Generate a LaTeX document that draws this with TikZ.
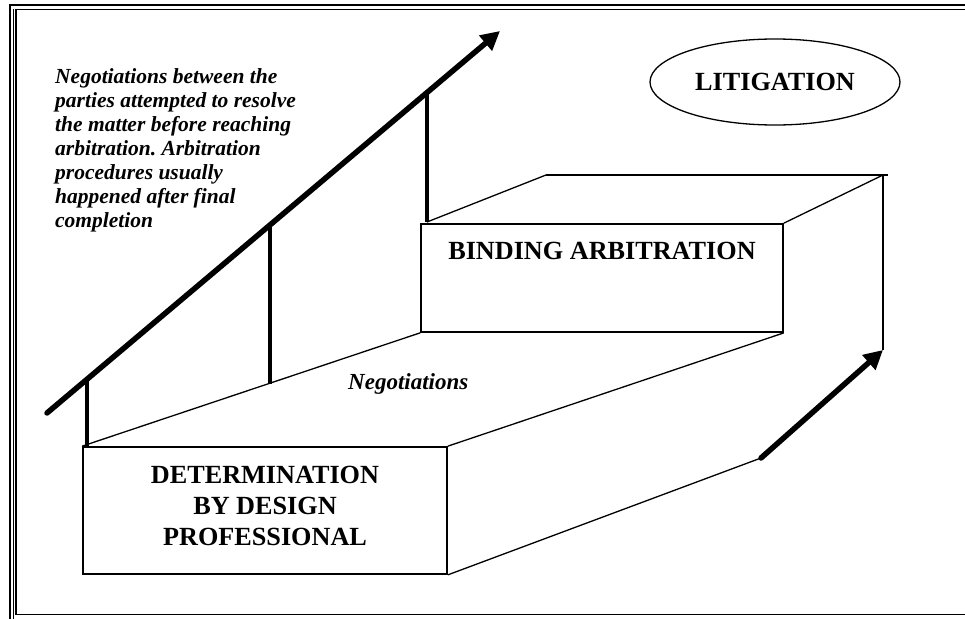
\documentclass[tikz,border=0pt]{standalone}
\usepackage{fontspec}
\setmainfont{Liberation Serif}
\usetikzlibrary{arrows.meta,shapes.geometric,calc}
\frenchspacing
\begin{document}
\begin{tikzpicture}[x=1pt,y=-1pt,
  frame/.style={line width=#1},
  stepbox/.style={draw,line width=1.7pt,inner sep=0pt,rectangle},
  edge/.style={line width=1.3pt},
  post/.style={line width=4pt},
  thickarrow/.style={line width=5.5pt,line cap=round,-{Triangle[length=19pt,width=19pt]}},
  boldlabel/.style={font=\fontsize{26.2}{31.4}\selectfont\bfseries,inner sep=0pt},
  note/.style={font=\fontsize{21.5}{24}\selectfont\bfseries\itshape,inner sep=0pt}]
\useasboundingbox (0,0) rectangle (965,618);

% page border (runs off the right and bottom edges)
\draw[frame=2pt] (10,630) -- (10,5) -- (980,5);
\draw[frame=0.8pt] (13,630) -- (13,9);
\draw[frame=1.6pt] (980,614.5) -- (16,614.5) -- (16,9.5) -- (980,9.5);

% front faces of the two steps
\node[stepbox,minimum width=364pt,minimum height=127pt] (dbox) at (265,510.5) {};
\node[stepbox,minimum width=362pt,minimum height=108pt] (abox) at (602,278) {};

% key points of the top faces and the side
\coordinate (ubl) at (546,175);
\coordinate (ubr) at (883,175);
\coordinate (rb)  at (883,350);
\coordinate (tail) at (761,458);
\coordinate (p3b) at (427,222);

% lower step: top face and side
\draw[edge] (dbox.north west) -- (abox.south west);
\draw[edge] (dbox.north east) -- (abox.south east);
\draw[edge] (dbox.south east) -- (tail);

% upper step: top face and back edge
\draw[edge] (p3b) -- (ubl) -- (ubr) -- (abox.north east);
\draw[edge] (ubl) -- ($(ubr)+(5,0)$);
\draw[edge] (ubr) -- (rb);

% rising arrow with its posts
\coordinate (a0) at (47,413);
\coordinate (a1) at (500,31);
\coordinate (t1) at ($(a0)!0.0883!(a1)$);
\coordinate (t2) at ($(a0)!0.4923!(a1)$);
\coordinate (t3) at ($(a0)!0.8389!(a1)$);
\coordinate (b2) at ($(dbox.north west)!0.5506!(abox.south west)$);
\draw[post] (t1) -- (t1 |- dbox.north west);
\draw[post] (t2) -- (t2 |- b2);
\draw[post] (t3) -- (t3 |- p3b);
\draw[thickarrow] (a0) -- (a1);

% arrow up to the last stage
\draw[thickarrow] (tail) -- (rb);

% labels
\node[boldlabel,align=center] (dtext) at (265,506)
  {DETERMINATION\\BY DESIGN\\PROFESSIONAL};
\node[boldlabel,anchor=base] (atext) at (602,259) {BINDING ARBITRATION};
\node[draw,ellipse,line width=1.3pt,minimum width=250pt,minimum height=86pt,
      boldlabel] (lit) at (775,82) {LITIGATION};
\node[font=\fontsize{23}{27}\selectfont\bfseries\itshape,inner sep=0pt,
      anchor=base west] (neg) at (348,389) {Negotiations};
\node[note,align=left,anchor=north west] (notes) at (55,68.3)
  {Negotiations between the\\parties attempted to resolve\\the matter before reaching\\arbitration. Arbitration\\procedures usually\\happened after final\\completion};
\end{tikzpicture}
\end{document}
